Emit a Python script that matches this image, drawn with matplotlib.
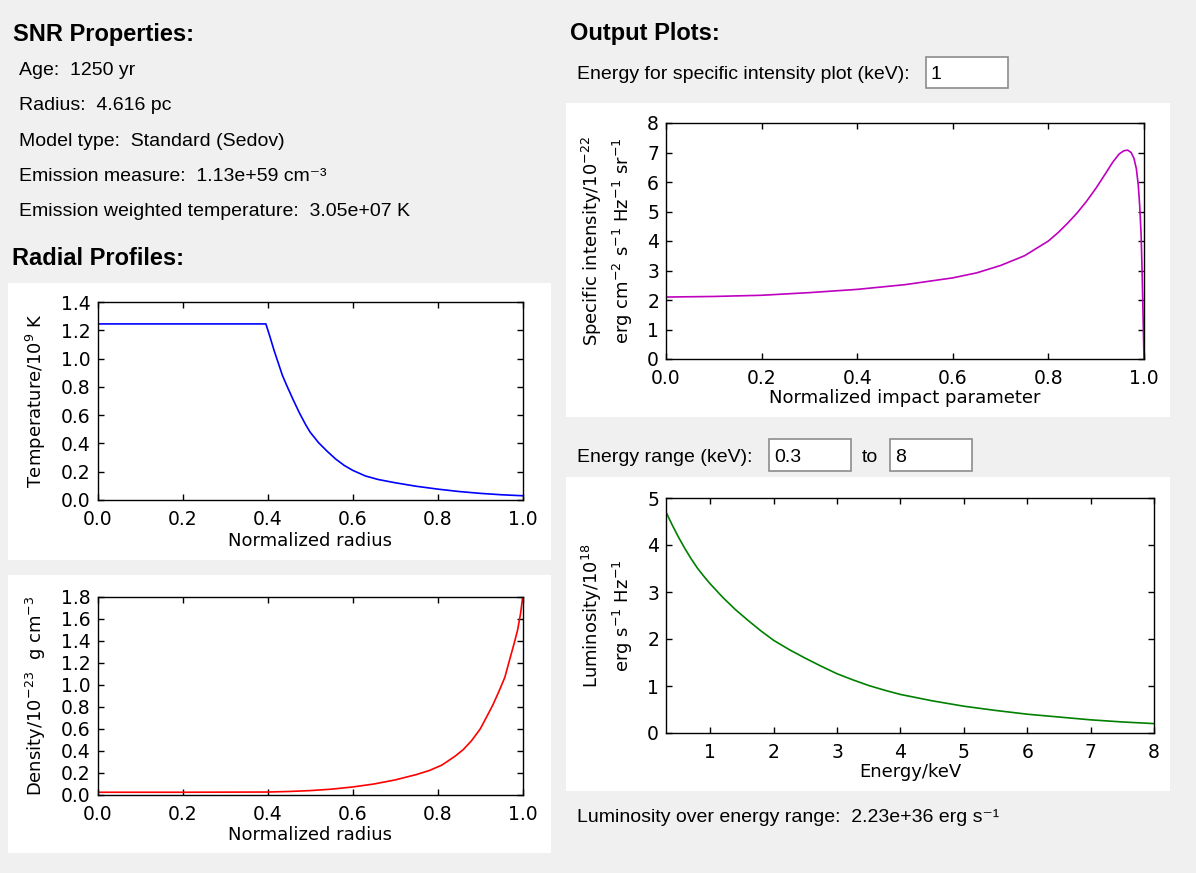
import matplotlib
matplotlib.use("Agg")
import matplotlib.pyplot as plt
import matplotlib.patches as mpatches

# temperature profile (10^9 K) vs normalized radius
temp_r = [0.0, 0.396, 0.405, 0.415, 0.425, 0.435, 0.445, 0.46, 0.475, 0.49,
          0.5, 0.52, 0.54, 0.56, 0.58, 0.6, 0.63, 0.66, 0.7, 0.75,
          0.8, 0.85, 0.9, 0.95, 1.0]
temp_T = [1.245, 1.245, 1.16, 1.06, 0.97, 0.88, 0.81, 0.71, 0.615, 0.53,
          0.48, 0.405, 0.345, 0.29, 0.245, 0.21, 0.17, 0.145, 0.122, 0.097,
          0.077, 0.06, 0.047, 0.037, 0.03]

# density profile (10^-23 g cm^-3) vs normalized radius
dens_r = [0.0, 0.2, 0.4, 0.45, 0.5, 0.55, 0.6, 0.65, 0.7, 0.75,
          0.78, 0.81, 0.84, 0.86, 0.88, 0.9, 0.915, 0.93, 0.945, 0.958,
          0.97, 0.98, 0.988, 0.995, 1.0]
dens_rho = [0.025, 0.025, 0.027, 0.032, 0.04, 0.053, 0.073, 0.1, 0.137, 0.186,
            0.222, 0.272, 0.35, 0.412, 0.495, 0.6, 0.709, 0.82, 0.95, 1.07,
            1.24, 1.38, 1.5, 1.65, 1.8]

# specific intensity (10^-22 ...) vs normalized impact parameter
si_b = [0.0, 0.1, 0.2, 0.3, 0.4, 0.5, 0.6, 0.65, 0.7, 0.75,
        0.8, 0.82, 0.84, 0.86, 0.88, 0.9, 0.92, 0.935, 0.948, 0.958,
        0.966, 0.973, 0.979, 0.984, 0.988, 0.991, 0.994, 0.996, 0.998, 1.0]
si_I = [2.1, 2.12, 2.16, 2.25, 2.36, 2.52, 2.75, 2.92, 3.17, 3.5,
        4.0, 4.28, 4.6, 4.95, 5.35, 5.8, 6.3, 6.68, 6.95, 7.06,
        7.08, 7.0, 6.8, 6.45, 5.9, 5.2, 4.2, 3.0, 1.5, 0.0]

# luminosity (10^18 erg s^-1 Hz^-1) vs energy (keV)
lum_E = [0.3, 0.4, 0.5, 0.6, 0.7, 0.8, 0.9, 1.0, 1.2, 1.4,
         1.6, 1.8, 2.0, 2.25, 2.5, 2.75, 3.0, 3.25, 3.5, 3.75,
         4.0, 4.5, 5.0, 5.5, 6.0, 6.5, 7.0, 7.5, 8.0]
lum_L = [4.70, 4.42, 4.16, 3.92, 3.70, 3.50, 3.33, 3.17, 2.88, 2.62,
         2.39, 2.17, 1.97, 1.77, 1.59, 1.42, 1.26, 1.13, 1.01, 0.91,
         0.82, 0.685, 0.57, 0.48, 0.40, 0.34, 0.28, 0.235, 0.2]

props = ["Age:  1250 yr",
         "Radius:  4.616 pc",
         "Model type:  Standard (Sedov)",
         "Emission measure:  1.13e+59 cm\u207b\u00b3",
         "Emission weighted temperature:  3.05e+07 K"]

W, H = 1196, 873
BG = "#f0f0f0"
GUI = ["Liberation Sans", "DejaVu Sans"]
TICK = 13.5
LAB = 13
LW = 1.2

plt.rcParams["font.family"] = "DejaVu Sans"
plt.rcParams["mathtext.fontset"] = "dejavusans"


def frac(x0, y0, x1, y1):
    return [x0 / W, 1 - y1 / H, (x1 - x0) / W, (y1 - y0) / H]


def gui_text(x, y, s, size=14, bold=False):
    fig.text(x / W, 1 - y / H, s, fontsize=size, family=GUI,
             fontweight="bold" if bold else "normal", va="baseline", ha="left")


def panel(x0, y0, x1, y1, fc="white", ec="none", z=-5):
    r = frac(x0, y0, x1, y1)
    fig.patches.append(mpatches.Rectangle((r[0], r[1]), r[2], r[3],
                                          transform=fig.transFigure,
                                          facecolor=fc, edgecolor=ec, lw=1.2,
                                          zorder=z))


def style(ax):
    ax.tick_params(direction="in", top=True, right=True, length=4.5,
                   width=1, labelsize=TICK)
    ax.tick_params(axis="x", pad=7)
    ax.tick_params(axis="y", pad=5)
    for sp in ax.spines.values():
        sp.set_linewidth(1.0)


fig = plt.figure(figsize=(W / 100, H / 100), dpi=100, facecolor=BG)

# left column text
gui_text(13, 41, "SNR Properties:", size=17, bold=True)
for i, s in enumerate(props):
    gui_text(19, 75 + 35.3 * i, s)
gui_text(12, 265, "Radial Profiles:", size=17, bold=True)

# right column text and entry boxes
gui_text(570, 40, "Output Plots:", size=17, bold=True)
gui_text(577, 79, "Energy for specific intensity plot (keV):")
panel(926, 57, 1008, 88, ec="#8c8c8c")
gui_text(931, 79, "1")
gui_text(577, 462, "Energy range (keV):")
panel(769, 439, 851, 471, ec="#8c8c8c")
gui_text(774, 462, "0.3")
gui_text(862, 462, "to")
panel(890, 439, 972, 471, ec="#8c8c8c")
gui_text(895, 462, "8")
gui_text(577, 822, "Luminosity over energy range:  2.23e+36 erg s\u207b\u00b9")

# white plot panels
panel(8, 283, 551, 560)
panel(8, 575, 551, 853)
panel(566, 103, 1170, 417)
panel(566, 477, 1170, 791)

# temperature
ax1 = fig.add_axes(frac(97.5, 302, 522.7, 500))
ax1.plot(temp_r, temp_T, color="#0000ff", lw=LW)
ax1.set_xlim(0, 1)
ax1.set_ylim(0, 1.4)
ax1.set_xticks([0, 0.2, 0.4, 0.6, 0.8, 1.0])
ax1.set_yticks([0, 0.2, 0.4, 0.6, 0.8, 1.0, 1.2, 1.4])
ax1.set_xlabel("Normalized radius", fontsize=LAB, labelpad=2)
ax1.set_ylabel("Temperature/10$^9$ K", fontsize=LAB, labelpad=9)
style(ax1)

# density
ax2 = fig.add_axes(frac(97.5, 597, 522.7, 795))
ax2.plot(dens_r, dens_rho, color="#ff0000", lw=LW)
ax2.set_xlim(0, 1)
ax2.set_ylim(0, 1.8)
ax2.set_xticks([0, 0.2, 0.4, 0.6, 0.8, 1.0])
ax2.set_yticks([0, 0.2, 0.4, 0.6, 0.8, 1.0, 1.2, 1.4, 1.6, 1.8])
ax2.set_xlabel("Normalized radius", fontsize=LAB, labelpad=2)
ax2.set_ylabel("Density/10$^{-23}$  g cm$^{-3}$", fontsize=LAB, labelpad=9)
style(ax2)

# specific intensity
ax3 = fig.add_axes(frac(666, 123, 1144, 359))
ax3.plot(si_b, si_I, color="#bf00bf", lw=LW)
ax3.set_xlim(0, 1)
ax3.set_ylim(0, 8)
ax3.set_xticks([0, 0.2, 0.4, 0.6, 0.8, 1.0])
ax3.set_yticks(range(0, 9))
ax3.set_xlabel("Normalized impact parameter", fontsize=LAB, labelpad=1)
ax3.set_ylabel("Specific intensity/10$^{-22}$\n"
               "erg cm$^{-2}$ s$^{-1}$ Hz$^{-1}$ sr$^{-1}$",
               fontsize=LAB, labelpad=9, linespacing=1.35)
style(ax3)

# luminosity
ax4 = fig.add_axes(frac(666, 498, 1154, 733))
ax4.plot(lum_E, lum_L, color="#008000", lw=LW)
ax4.set_xlim(0.3, 8)
ax4.set_ylim(0, 5)
ax4.set_xticks(range(1, 9))
ax4.set_yticks(range(0, 6))
ax4.set_xlabel("Energy/keV", fontsize=LAB, labelpad=1)
ax4.set_ylabel("Luminosity/10$^{18}$\nerg s$^{-1}$ Hz$^{-1}$",
               fontsize=LAB, labelpad=9, linespacing=1.35)
style(ax4)

fig.savefig("out.png", dpi=100, facecolor=BG)
